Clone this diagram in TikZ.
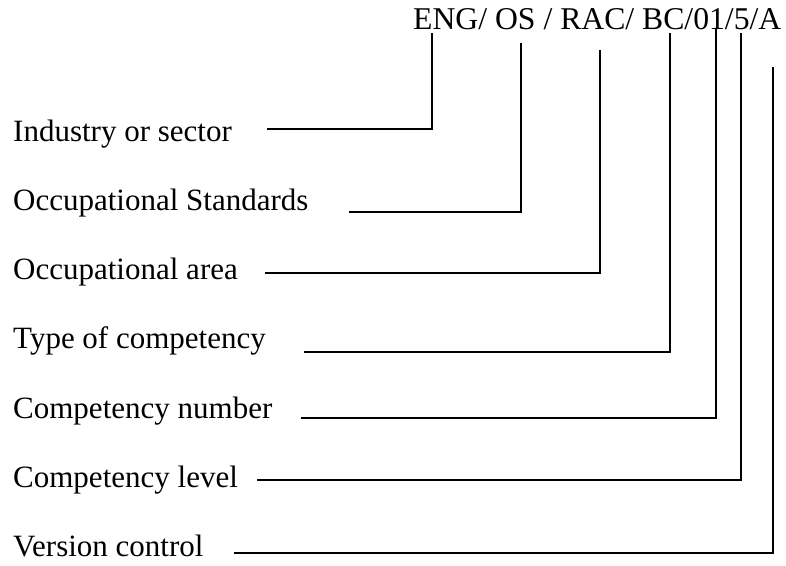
\documentclass[tikz,border=0pt]{standalone}
\usepackage{fontspec}
\setmainfont{Liberation Serif}
\usetikzlibrary{positioning}

\tikzset{
	lbl/.style={inner sep=0pt, anchor=base west},
	lead/.style={line width=1.6pt},
}

\begin{document}
\begin{tikzpicture}[x=1pt, y=1pt, font=\fontsize{31}{37}\selectfont, node distance=69pt]
	\useasboundingbox (0,0) rectangle (786,565);

	\node[lbl, font=\fontsize{31.7}{38}\selectfont] (code) at (413,535) {ENG/ OS / RAC/ BC/01/5/A};

	\node[lbl] (ind) at (13,423) {Industry or sector};
	\node[below=of ind.base west, lbl] (ostd) {Occupational Standards};
	\node[below=of ostd.base west, lbl] (oarea) {Occupational area};
	\node[below=of oarea.base west, lbl] (type) {Type of competency};
	\node[below=of type.base west, lbl] (num) {Competency number};
	\node[below=of num.base west, lbl] (lev) {Competency level};
	\node[below=of lev.base west, lbl] (ver) {Version control};

	% points under the code
	\coordinate (eng) at (432,532);
	\coordinate (os) at (521,522);
	\coordinate (rac) at (600,515);
	\coordinate (bc) at (670,532);
	\coordinate (nn) at (716,537);
	\coordinate (lv) at (741,532);
	\coordinate (vc) at (773,498);

	\draw[lead] ([shift={(35,13)}]ind.base east) -| (eng);
	\draw[lead] ([shift={(40,-1)}]ostd.base east) -| (os);
	\draw[lead] ([shift={(27,7)}]oarea.base east) -| (rac);
	\draw[lead] ([shift={(38,-3)}]type.base east) -| (bc);
	\draw[lead] ([shift={(28,0)}]num.base east) -| (nn);
	\draw[lead] ([shift={(19,7)}]lev.base east) -| (lv);
	\draw[lead] ([shift={(30,3)}]ver.base east) -| (vc);
\end{tikzpicture}
\end{document}
